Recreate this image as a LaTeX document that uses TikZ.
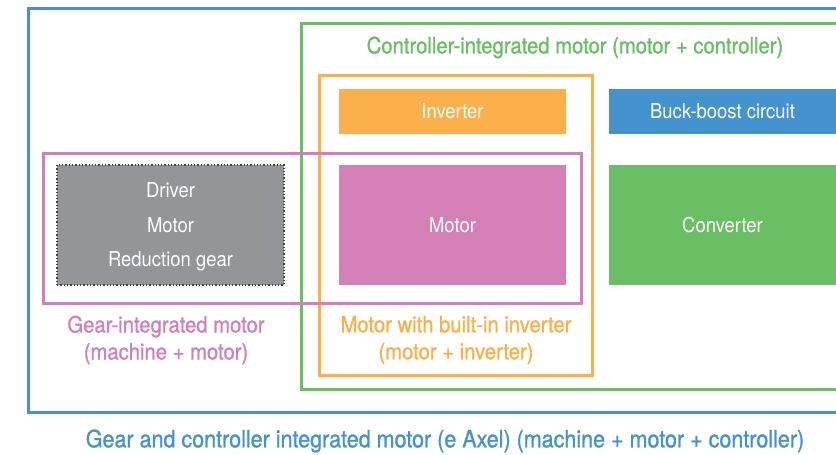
\documentclass[tikz,border=0pt]{standalone}
\usepackage{fontspec}
\setmainfont{TeX Gyre Heros}[FakeStretch=0.9]
\newfontfamily\lblfont{TeX Gyre Heros}[FakeStretch=0.9,FakeBold=1.0]
\definecolor{eblue}{HTML}{4493CF}
\definecolor{egreen}{HTML}{6ABF64}
\definecolor{eorange}{HTML}{FBB04B}
\definecolor{epink}{HTML}{D280B5}
\definecolor{egray}{HTML}{949598}
\definecolor{edark}{HTML}{444444}
\begin{document}
\begin{tikzpicture}[x=1pt,y=-1pt,
  frame/.style={draw=#1,line width=3pt,inner sep=0pt,outer sep=0pt},
  block/.style={fill=#1,text=white,inner sep=0pt,outer sep=0pt,align=center,
    font=\fontsize{20.5}{34.5}\selectfont},
  lbl/.style={text=#1,inner sep=0pt,align=center,font=\lblfont\fontsize{22.5}{27}\selectfont}]
\useasboundingbox (0,0) rectangle (836,455);
\fill[white] (0,0) rectangle (836,455);
% frames
\node[frame=eblue, minimum width=822pt, minimum height=404pt] (fblue) at (439,210) {};
\node[frame=egreen, minimum width=549pt, minimum height=366pt] (fgreen) at (575.5,206) {};
\node[frame=eorange, minimum width=273pt, minimum height=300pt] (forange) at (455.5,225) {};
\node[frame=epink, minimum width=538pt, minimum height=150pt] (fpink) at (312,228) {};
% blocks
\node[block=eorange, minimum width=227pt, minimum height=45pt] (inv) at (452.5,111.5) {Inverter};
\node[block=eblue, minimum width=227pt, minimum height=45pt] (buck) at (722.5,111.5) {Buck-boost circuit};
\node[block=egray, draw=edark, dotted, line width=1.3pt, minimum width=227pt, minimum height=120pt] (gear) at (170.5,225) {};
\node[text=white, align=center, inner sep=0pt, font=\fontsize{20.5}{34.5}\selectfont] (geartxt) at (170.5,227) {Driver\\Motor\\Reduction gear};
\node[block=epink, minimum width=227pt, minimum height=120pt] (motor) at (452.5,225) {Motor};
\node[block=egreen, minimum width=227pt, minimum height=120pt] (conv) at (722.5,225) {Converter};
% labels
\node[lbl=egreen] (tgreen) at (575,47.5) {Controller-integrated motor (motor + controller)};
\node[lbl=epink] (tpink) at (166,340) {Gear-integrated motor\\(machine + motor)};
\node[lbl=eorange] (torange) at (456,340) {Motor with built-in inverter\\(motor + inverter)};
\node[lbl=eblue, font=\lblfont\fontsize{23.9}{27}\selectfont] (tblue) at (445,441) {Gear and controller integrated motor (e Axel) (machine + motor + controller)};
\end{tikzpicture}
\end{document}
